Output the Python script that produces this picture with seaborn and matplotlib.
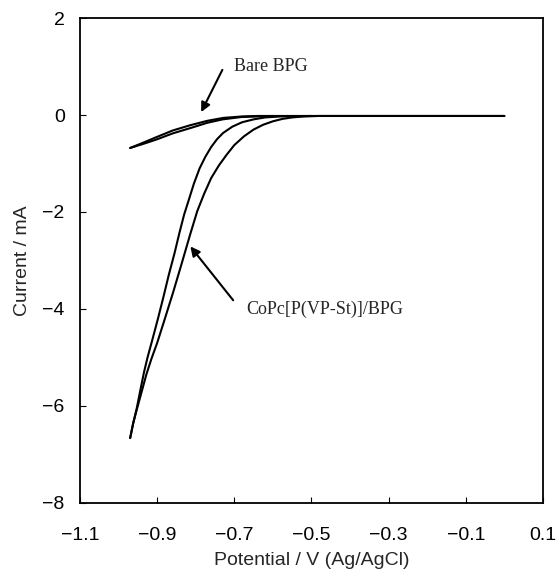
import numpy as np
import pandas as pd
import matplotlib
matplotlib.use("Agg")
import matplotlib.pyplot as plt
import seaborn as sns

# CoPc[P(VP-St)]/BPG loop, two branches
copc_left_x = [-0.50, -0.58, -0.62, -0.65, -0.68, -0.705, -0.729, -0.745, -0.76, -0.775,
               -0.79, -0.805, -0.818, -0.83, -0.842, -0.855, -0.870, -0.884, -0.898, -0.912,
               -0.925, -0.934, -0.943, -0.953, -0.962, -0.97]
copc_left_y = [-0.02, -0.03, -0.05, -0.09, -0.15, -0.24, -0.37, -0.50, -0.66, -0.86,
               -1.10, -1.42, -1.75, -2.05, -2.42, -2.85, -3.30, -3.76, -4.20, -4.62,
               -5.00, -5.30, -5.65, -6.05, -6.35, -6.66]
copc_right_x = [0.0, -0.3, -0.48, -0.52, -0.55, -0.575, -0.60, -0.625, -0.65, -0.675,
                -0.70, -0.72, -0.74, -0.76, -0.778, -0.796, -0.814, -0.836, -0.858, -0.88,
                -0.90, -0.915, -0.928, -0.94, -0.952, -0.962, -0.97]
copc_right_y = [-0.02, -0.02, -0.02, -0.03, -0.05, -0.08, -0.13, -0.20, -0.30, -0.44,
                -0.62, -0.82, -1.04, -1.30, -1.62, -1.98, -2.45, -3.05, -3.64, -4.20,
                -4.70, -5.03, -5.35, -5.70, -6.05, -6.35, -6.66]

# Bare BPG loop
bare_upper_x = [-0.97, -0.93, -0.90, -0.86, -0.814, -0.77, -0.729, -0.68, -0.64, -0.5, 0.0]
bare_upper_y = [-0.68, -0.55, -0.45, -0.32, -0.21, -0.12, -0.06, -0.03, -0.02, -0.02, -0.02]
bare_lower_x = [-0.97, -0.93, -0.90, -0.86, -0.81, -0.77, -0.73, -0.68, -0.60]
bare_lower_y = [-0.68, -0.58, -0.50, -0.38, -0.26, -0.16, -0.09, -0.04, -0.02]

x_ticks = [-1.1, -0.9, -0.7, -0.5, -0.3, -0.1, 0.1]
y_ticks = [2, 0, -2, -4, -6, -8]

frames = []
for name, xs, ys in [("copc_left", copc_left_x, copc_left_y),
                     ("copc_right", copc_right_x, copc_right_y),
                     ("bare_upper", bare_upper_x, bare_upper_y),
                     ("bare_lower", bare_lower_x, bare_lower_y)]:
    frames.append(pd.DataFrame({"potential": xs, "current": ys, "trace": name}))
df = pd.concat(frames, ignore_index=True)

sns.set_theme(style="ticks")
plt.rcParams["font.family"] = ["Liberation Sans", "DejaVu Sans"]

fig = plt.figure(figsize=(5.58, 5.79), dpi=100)
ax = fig.add_axes([0.1434, 0.1313, 0.8296, 0.8376])

sns.lineplot(data=df, x="potential", y="current", units="trace", estimator=None,
             sort=False, color="black", linewidth=1.5, ax=ax, legend=False)

ax.set_xlim(-1.1, 0.1)
ax.set_ylim(-8, 2)
ax.set_xticks(x_ticks)
ax.set_yticks(y_ticks)
ax.set_xticklabels([f"{t:.1f}".replace("-", "\u2212") for t in x_ticks])
ax.set_yticklabels([f"{t:d}".replace("-", "\u2212") for t in y_ticks])
ax.tick_params(axis="both", direction="in", length=4, width=0.8, labelsize=14,
               colors="black")
ax.tick_params(axis="x", pad=17)
ax.tick_params(axis="y", pad=11)
for s in ax.spines.values():
    s.set_visible(True)
    s.set_linewidth(1.3)
    s.set_color("black")

ax.set_xlabel("Potential / V (Ag/AgCl)", fontsize=14, labelpad=6)
ax.set_ylabel("Current / mA", fontsize=14, labelpad=8)

ax.text(-0.70, 1.01, "Bare BPG", fontsize=13, family="Liberation Serif",
        va="center", ha="left")
ax.annotate("", xy=(-0.786, 0.06), xytext=(-0.731, 0.93),
            arrowprops=dict(arrowstyle="-|>", color="black", lw=1.5,
                            mutation_scale=14, shrinkA=0, shrinkB=0))
ax.text(-0.669, -4.0, "CoPc[P(VP-St)]/BPG", fontsize=13, family="Liberation Serif",
        va="center", ha="left")
ax.annotate("", xy=(-0.814, -2.71), xytext=(-0.703, -3.82),
            arrowprops=dict(arrowstyle="-|>", color="black", lw=1.5,
                            mutation_scale=14, shrinkA=0, shrinkB=0))

fig.savefig("out.png", dpi=100, facecolor="white")
